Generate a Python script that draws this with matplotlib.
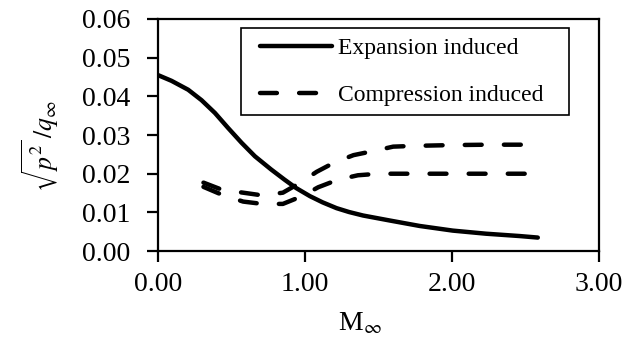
import matplotlib
matplotlib.use("Agg")
import matplotlib.pyplot as plt
from matplotlib.patches import Rectangle

plt.rcParams["font.family"] = ["Liberation Serif", "DejaVu Serif"]
plt.rcParams["mathtext.fontset"] = "stix"

# Expansion-induced fluctuation level vs free-stream Mach number
mach_exp = [0.00, 0.093, 0.206, 0.297, 0.388, 0.478, 0.569, 0.66, 0.77, 0.86, 0.94,
            1.034, 1.12, 1.215, 1.30, 1.395, 1.578, 1.78, 2.005, 2.231, 2.458, 2.583]
p_exp = [0.0455, 0.0440, 0.0417, 0.0390, 0.0357, 0.0318, 0.0280, 0.0245, 0.0211, 0.0185, 0.0163,
         0.0142, 0.0126, 0.0111, 0.0101, 0.0092, 0.0079, 0.0065, 0.0053, 0.0045, 0.0039, 0.0035]

# Compression-induced, two branches
mach_comp_a = [0.31, 0.44, 0.58, 0.71, 0.85, 0.96, 1.08, 1.20, 1.33, 1.47, 1.60, 1.75, 2.00, 2.25, 2.51]
p_comp_a = [0.0177, 0.0158, 0.0151, 0.0144, 0.0151, 0.0175, 0.0205, 0.0229, 0.0248, 0.0259, 0.0270, 0.0272, 0.0274, 0.0275, 0.0275]
mach_comp_b = [0.31, 0.44, 0.58, 0.71, 0.85, 0.98, 1.09, 1.22, 1.36, 1.50, 1.75, 2.00, 2.25, 2.51]
p_comp_b = [0.0166, 0.0145, 0.0128, 0.0122, 0.0122, 0.0142, 0.0165, 0.0184, 0.0196, 0.0200, 0.0200, 0.0200, 0.0200, 0.0200]

x_ticks = [0.0, 1.0, 2.0, 3.0]
y_ticks = [0.00, 0.01, 0.02, 0.03, 0.04, 0.05, 0.06]

fig = plt.figure(figsize=(6.34, 3.44), dpi=100)
ax = fig.add_axes([0.249, 0.270, 0.696, 0.675])

lw = 3.2
dash = (3.8, 5.0)
ax.plot(mach_exp, p_exp, color="black", lw=lw, solid_capstyle="round",
        solid_joinstyle="round", label="Expansion induced")
ax.plot(mach_comp_a, p_comp_a, color="black", lw=lw, dashes=dash,
        dash_capstyle="round", dash_joinstyle="round", label="Compression induced")
ax.plot(mach_comp_b, p_comp_b, color="black", lw=lw, dashes=dash,
        dash_capstyle="round", dash_joinstyle="round")

ax.set_xlim(0, 3)
ax.set_ylim(0, 0.06)
ax.set_xticks(x_ticks)
ax.set_yticks(y_ticks)
ax.set_xticklabels([f"{v:.2f}" for v in x_ticks])
ax.set_yticklabels([f"{v:.2f}" for v in y_ticks])
ax.tick_params(direction="out", length=8, width=1.6, labelsize=20)
ax.tick_params(axis="x", pad=7)
ax.tick_params(axis="y", pad=12)
for s in ax.spines.values():
    s.set_linewidth(1.6)

ax.set_xlabel(r"M$_\infty$", fontsize=20)
ax.xaxis.set_label_coords(0.458, -0.255)
fig.text(40 / 634, 1 - 146 / 344, r"$\sqrt{p^2}\,/q_\infty$", fontsize=18.5,
         rotation=90, ha="center", va="center")

leg = ax.legend(loc="upper left", bbox_to_anchor=(0.231, 0.921), fontsize=17,
                frameon=False, handlelength=3.05, handletextpad=0.25,
                borderpad=0, labelspacing=1.1, borderaxespad=0)
ax.add_patch(Rectangle((0.188, 0.586), 0.932 - 0.188, 0.961 - 0.586,
                       transform=ax.transAxes, fill=False, edgecolor="black",
                       linewidth=1.2, zorder=4))

fig.savefig("out.png", dpi=100)
